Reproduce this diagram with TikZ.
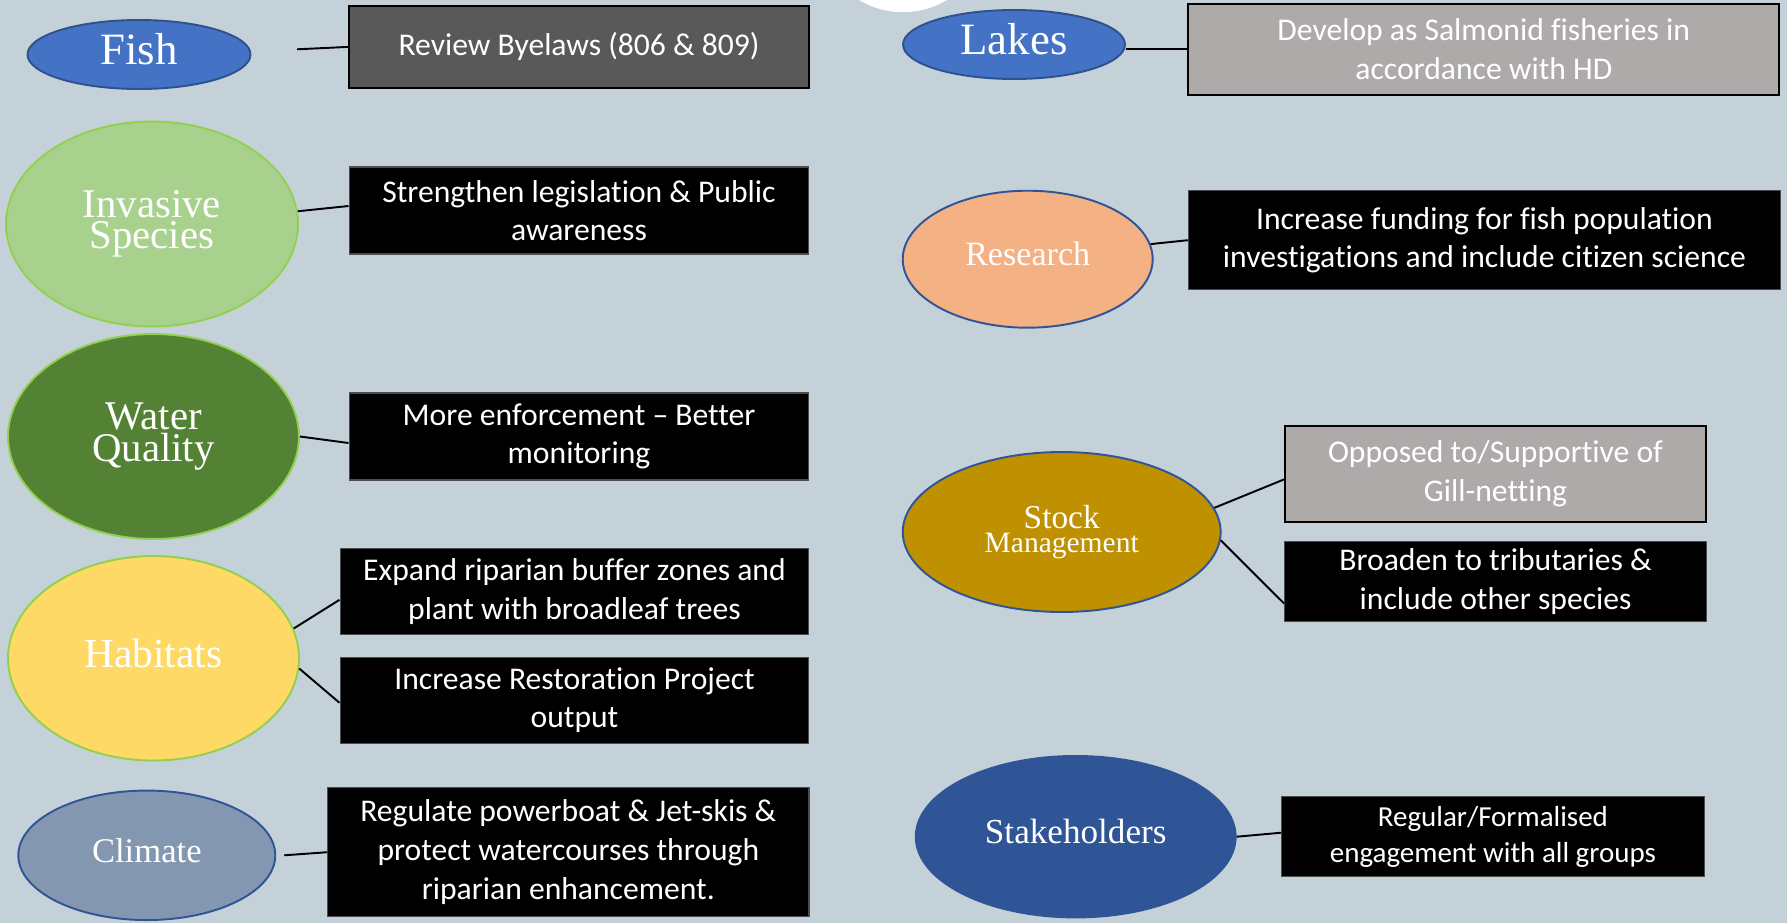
\documentclass[tikz,border=0pt]{standalone}
\usepackage{fontspec}
\setmainfont{Liberation Serif}
\newfontfamily\boxfont[Ligatures=NoCommon]{Carlito}
\usetikzlibrary{shapes.geometric}

\definecolor{bg}{HTML}{C5D1D8}
\definecolor{cblue}{HTML}{4472C4}
\definecolor{cblueedge}{HTML}{2F528F}
\definecolor{cnavy}{HTML}{2F5597}
\definecolor{clight}{HTML}{A9D18E}
\definecolor{cgreenedge}{HTML}{92D050}
\definecolor{cwater}{HTML}{548235}
\definecolor{chabitat}{HTML}{FFD966}
\definecolor{cclimate}{HTML}{8497B0}
\definecolor{cresearch}{HTML}{F4B183}
\definecolor{cstock}{HTML}{BF9000}
\definecolor{cdark}{HTML}{595959}
\definecolor{cgrey}{HTML}{AEAAAA}

\begin{document}
\begin{tikzpicture}[x=0.02cm, y=-0.02cm,
    topic/.style={ellipse, draw, line width=1.1pt, text=white, inner sep=0pt, align=center},
    single/.style={text depth=6pt},
    action/.style={rectangle, draw=black!70, line width=0.6pt, fill=black, text=white,
      inner sep=0pt, align=center, font={\boxfont\fontsize{18}{22}\selectfont}},
    grey action/.style={action, draw=black, line width=1.1pt},
    link/.style={line width=1.1pt}]

% Background, and the white disc cut off at the top
\useasboundingbox (0,0) rectangle (1787,923);
\fill[bg] (0,0) rectangle (1787,923);
\begin{scope}
  \clip (0,0) rectangle (1787,923);
  \fill[white] (903,-72.8) circle[radius=1.7cm];
\end{scope}

% Topics, left column
\node[topic, single, fill=cblue, draw=cblueedge, minimum width=4.46cm, minimum height=1.38cm, font=\fontsize{25.5}{26}\selectfont] (fish) at (139,54.5) {Fish};
\node[topic, fill=clight, draw=cgreenedge, minimum width=5.84cm, minimum height=4.10cm, font=\fontsize{23.2}{18}\selectfont] (invasive) at (152,224) {Invasive\\Species};
\node[topic, fill=cwater, draw=cgreenedge, minimum width=5.82cm, minimum height=4.10cm, font=\fontsize{23.2}{18}\selectfont] (water) at (153.5,436.5) {Water\\Quality};
\node[topic, single, fill=chabitat, draw=cgreenedge, minimum width=5.82cm, minimum height=4.09cm, font=\fontsize{23.5}{24}\selectfont] (habitats) at (153.5,658.3) {Habitats};
\node[topic, single, fill=cclimate, draw=cnavy, minimum width=5.14cm, minimum height=2.59cm, font=\fontsize{19.7}{20}\selectfont] (climate) at (146.8,855.3) {Climate};

% Topics, right column
\node[topic, single, fill=cblue, draw=cblueedge, minimum width=4.44cm, minimum height=1.38cm, font=\fontsize{25.5}{26}\selectfont] (lakes) at (1014,44.5) {Lakes};
\node[topic, single, fill=cresearch, draw=cnavy, minimum width=5.00cm, minimum height=2.74cm, font=\fontsize{19.4}{20}\selectfont] (research) at (1027.7,259.2) {Research};
\node[topic, fill=cstock, draw=cnavy, minimum width=6.36cm, minimum height=3.20cm, font=\fontsize{19}{14}\selectfont] (stock) at (1061.7,532) {Stock\\{\fontsize{16.8}{14}\selectfont Management}};
\node[topic, single, fill=cnavy, draw=cnavy, minimum width=6.40cm, minimum height=3.23cm, font=\fontsize{20}{20}\selectfont] (stakeholders) at (1075.7,836.7) {Stakeholders};

% Actions, left column
\node[grey action, fill=cdark, minimum width=9.20cm, minimum height=1.65cm] (review) at (579,46.9) {Review Byelaws (806 \& 809)};
\node[action, minimum width=9.20cm, minimum height=1.74cm] (strengthen) at (579,210.5) {Strengthen legislation \& Public\\awareness};
\node[action, minimum width=9.20cm, minimum height=1.74cm] (enforce) at (579,436.5) {More enforcement – Better\\monitoring};
\node[action, minimum width=9.38cm, minimum height=1.73cm] (expand) at (574.5,591.3) {Expand riparian buffer zones and\\plant with broadleaf trees};
\node[action, minimum width=9.38cm, minimum height=1.73cm] (restore) at (574.5,700.3) {Increase Restoration Project\\output};
\node[action, minimum width=9.63cm, minimum height=2.59cm] (regulate) at (568.3,852.2) {Regulate powerboat \& Jet-skis \&\\protect watercourses through\\riparian enhancement.};

% Actions, right column
\node[grey action, fill=cgrey, minimum width=11.82cm, minimum height=1.82cm] (develop) at (1483.8,49.1) {Develop as Salmonid fisheries in\\accordance with HD};
\node[action, minimum width=11.85cm, minimum height=1.99cm] (funding) at (1484.5,240.2) {Increase funding for fish population\\investigations and include citizen science};
\node[grey action, fill=cgrey, minimum width=8.42cm, minimum height=1.93cm] (gillnet) at (1495.5,473.9) {Opposed to/Supportive of\\Gill-netting};
\node[action, minimum width=8.44cm, minimum height=1.61cm] (broaden) at (1495.6,581.5) {Broaden to tributaries \&\\include other species};
\node[action, minimum width=8.45cm, minimum height=1.60cm, font={\boxfont\fontsize{16.5}{20.4}\selectfont}] (engage) at (1492.9,836.7) {Regular/Formalised\\engagement with all groups};

% Links from topics to actions
\coordinate (fishend) at (297,49.3);
\draw[link] (fishend) -- (review.west);
\draw[link] (invasive.5) -- ([yshift=0.09cm]strengthen.west);
\draw[link] (water.east) -- ([yshift=-0.13cm]enforce.west);
\draw[link] (habitats.12) -- ([yshift=-0.17cm]expand.west);
\draw[link] (habitats.-4) -- ([yshift=-0.05cm]restore.west);
\draw[link] ([xshift=0.16cm]climate.east) -- (regulate.west);
\draw[link] (lakes.east |- develop.west) -- (develop.west);
\draw[link] (research.7) -- (funding.west);
\draw[link] (stock.9) -- ([yshift=-0.11cm]gillnet.west);
\draw[link] (stock.-3) -- ([yshift=-0.44cm]broaden.west);
\draw[link] (stakeholders.east) -- ([yshift=0.08cm]engage.west);

\end{tikzpicture}
\end{document}
